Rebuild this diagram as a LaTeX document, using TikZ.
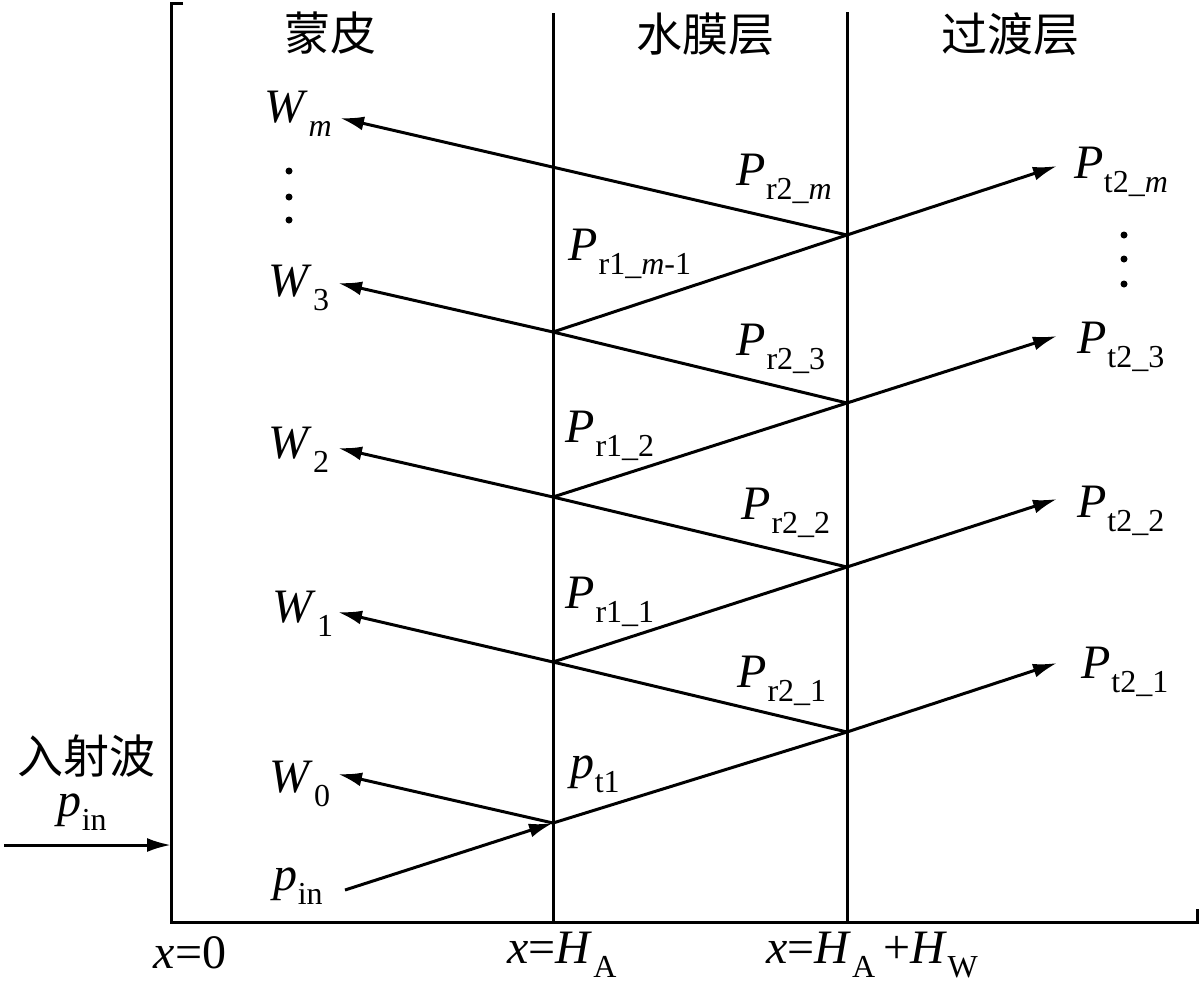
\documentclass[tikz,border=0pt]{standalone}
\usepackage{fontspec}
\setmainfont{Liberation Serif}
\newfontfamily\cjk{Noto Sans CJK SC}
\usetikzlibrary{arrows.meta}
\newcommand\lbl[2]{\textit{#1}\kern0.5pt\raisebox{-14pt}{\fontsize{32}{32}\selectfont #2}}
\begin{document}
\begin{tikzpicture}[x=1pt,y=-1pt,
  ln/.style={line width=3pt},
  arr/.style={ln,-{Latex[length=24pt,width=14pt]}},
  lab/.style={font=\fontsize{48}{52}\selectfont, inner sep=0pt},
  hd/.style={font=\cjk\fontsize{46}{50}\selectfont, inner sep=0pt},
  vdot/.style={fill=black}]
\path[use as bounding box] (0,0) rectangle (1200,986);
% axes and interfaces
\draw[ln] (183,3) -- (171,3) -- (171,922) -- (1197,922) -- (1197,909);
\draw[ln] (553,13) -- (553,922);
\draw[ln] (847,12) -- (847,922);
% reflection points
\coordinate (A0) at (553,823);
\coordinate (A1) at (553,662);
\coordinate (A2) at (553,497);
\coordinate (A3) at (553,332);
\coordinate (B1) at (847,732);
\coordinate (B2) at (847,567);
\coordinate (B3) at (847,403);
\coordinate (Bm) at (847,235);
\coordinate (S) at (345,890);
\coordinate (w0) at (338,774);
\coordinate (w1) at (338,612);
\coordinate (w2) at (338,448);
\coordinate (w3) at (338,283);
\coordinate (wm) at (340,118);
\coordinate (t1) at (1057,663);
\coordinate (t2) at (1057,499);
\coordinate (t3) at (1057,336);
\coordinate (tm) at (1057,166);
\coordinate (inA) at (4,845);
\coordinate (inB) at (171,845);
% rays
\draw[arr] (S) -- (A0);
\draw[arr] (A0) -- (w0);
\draw[ln] (A0) -- (B1);
\draw[arr] (B1) -- (t1);
\draw[ln] (B1) -- (A1);
\draw[arr] (A1) -- (w1);
\draw[ln] (A1) -- (B2);
\draw[arr] (B2) -- (t2);
\draw[ln] (B2) -- (A2);
\draw[arr] (A2) -- (w2);
\draw[ln] (A2) -- (B3);
\draw[arr] (B3) -- (t3);
\draw[ln] (B3) -- (A3);
\draw[arr] (A3) -- (w3);
\draw[ln] (A3) -- (Bm);
\draw[arr] (Bm) -- (tm);
\draw[arr] (Bm) -- (wm);
\draw[arr] (inA) -- (inB);
% headers
\node[hd] (h1) at (330,33) {蒙皮};
\node[hd] (h2) at (705,34) {水膜层};
\node[hd] (h3) at (1010,34) {过渡层};
% left labels
\node[lab] (lWm) at (298,114) {\lbl{W}{\textit{m}}};
\node[lab] (lW3) at (299,288) {\lbl{W}{3}};
\node[lab] (lW2) at (299,450) {\lbl{W}{2}};
\node[lab] (lW1) at (303,614) {\lbl{W}{1}};
\node[lab] (lW0) at (300,784) {\lbl{W}{0}};
\node[lab] (lpin) at (298,886) {\lbl{p}{in}};
\fill[vdot] (289,171) circle (3.5pt) (289,197) circle (3.5pt) (289,220) circle (3.5pt);
% incident
\node[hd] (inc) at (86,756) {入射波};
\node[lab] (incp) at (82,812) {\lbl{p}{in}};
% middle labels
\node[lab] (r2m) at (784,179) {\lbl{P}{r2\_\textit{m}}};
\node[lab] (r1m) at (630,254) {\lbl{P}{r1\_\textit{m}-1}};
\node[lab] (r23) at (781,349) {\lbl{P}{r2\_3}};
\node[lab] (r12) at (610,436) {\lbl{P}{r1\_2}};
\node[lab] (r22) at (786,513) {\lbl{P}{r2\_2}};
\node[lab] (r11) at (610,602) {\lbl{P}{r1\_1}};
\node[lab] (r21) at (782,681) {\lbl{P}{r2\_1}};
\node[lab] (pt1) at (595,774) {\lbl{p}{t1}};
% right labels
\node[lab] (t2m) at (1121,172) {\lbl{P}{t2\_\textit{m}}};
\node[lab] (t23) at (1121,347) {\lbl{P}{t2\_3}};
\node[lab] (t22) at (1121,511) {\lbl{P}{t2\_2}};
\node[lab] (t21) at (1125,672) {\lbl{P}{t2\_1}};
\fill[vdot] (1124,235) circle (3.5pt) (1124,259) circle (3.5pt) (1124,284) circle (3.5pt);
% axis labels
\node[lab] (x0) at (190,953) {\textit{x}=0};
\node[lab] (xa) at (562,955) {\textit{x}=\lbl{H}{A}};
\node[lab] (xb) at (872,955) {\textit{x}=\lbl{H}{A}\,+\lbl{H}{W}};
\end{tikzpicture}
\end{document}
